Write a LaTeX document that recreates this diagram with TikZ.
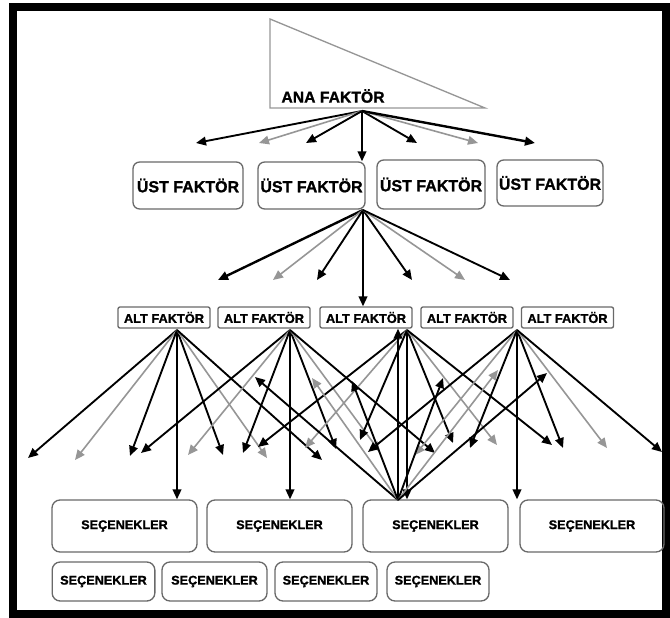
\documentclass[tikz,border=0pt]{standalone}
\usepackage{fontspec}
\setmainfont{Liberation Sans}[BoldFeatures={FakeBold=1.2}]
\usetikzlibrary{arrows.meta,calc}
\definecolor{lgray}{RGB}{150,150,150}
\definecolor{bgray}{RGB}{105,105,105}

\begin{document}
\begin{tikzpicture}[x=0.75pt,y=0.75pt,yscale=-1,xscale=1,
  blk/.style={draw=black,line width=1.4pt,-{Triangle[length=7.5pt,width=6.5pt]}},
  gry/.style={draw=lgray,line width=1.2pt,-{Triangle[length=7.5pt,width=6.5pt]}},
  ustbox/.style={draw=bgray,line width=1pt,rounded corners=5pt,minimum height=35.25pt,inner sep=1pt,font=\bfseries\fontsize{12}{14}\selectfont},
  altbox/.style={draw=bgray,line width=1pt,rounded corners=1.5pt,minimum width=69pt,minimum height=15.75pt,inner sep=1pt,font=\bfseries\fontsize{9.6}{11}\selectfont},
  secbox/.style={draw=bgray,line width=1pt,rounded corners=6pt,minimum width=108.75pt,minimum height=39pt,inner sep=1pt,font=\bfseries\fontsize{9.5}{11}\selectfont},
  secsmall/.style={secbox,minimum width=77pt,minimum height=29.25pt}]
\useasboundingbox (0,0) rectangle (670,617);

%Frame
\draw [line width=6pt] (13,7.5) rectangle (666,613.5);

%Triangle
\draw [color=lgray,line width=1pt] (270,19) -- (270,108) -- (485,108) -- cycle;
% Text Node
\node [inner sep=0pt,font=\bfseries\fontsize{11.8}{14}\selectfont] (ana) at (333,96) {ANA FAKTÖR};

% Text Nodes: ust faktor
\node [ustbox,minimum width=82.5pt] (ust1) at (188,185.5) {ÜST FAKTÖR};
\node [ustbox,minimum width=80.25pt] (ust2) at (311.5,185.5) {ÜST FAKTÖR};
\node [ustbox,minimum width=81pt,minimum height=36.75pt] (ust3) at (431,184.5) {ÜST FAKTÖR};
\node [ustbox,minimum width=79.5pt,minimum height=34.5pt] (ust4) at (550,183) {ÜST FAKTÖR};

% Text Nodes: alt faktor
\node [altbox] (alt1) at (164,317.5) {ALT FAKTÖR};
\node [altbox] (alt2) at (264,317.5) {ALT FAKTÖR};
\node [altbox] (alt3) at (366,317.5) {ALT FAKTÖR};
\node [altbox] (alt4) at (467,317.5) {ALT FAKTÖR};
\node [altbox] (alt5) at (567.5,317.5) {ALT FAKTÖR};

% Text Nodes: secenekler
\node [secbox] (sec1) at (124.5,526) {SEÇENEKLER};
\node [secbox] (sec2) at (279.5,526) {SEÇENEKLER};
\node [secbox] (sec3) at (435.5,526) {SEÇENEKLER};
\node [secbox,minimum width=108pt] (sec4) at (592,526) {SEÇENEKLER};
\node [secsmall] (sec5) at (103.5,581.5) {SEÇENEKLER};
\node [secsmall,minimum width=78.75pt] (sec6) at (214.5,581.5) {SEÇENEKLER};
\node [secsmall,minimum width=76.5pt] (sec7) at (326,581.5) {SEÇENEKLER};
\node [secsmall,minimum width=76.5pt] (sec8) at (438,581.5) {SEÇENEKLER};

%Hubs
\coordinate (top-hub) at (362,111);
\coordinate (ust-hub) at (363,210);
\coordinate (alt1-hub) at (177,330);
\coordinate (alt2-hub) at (290,330);
\coordinate (alt3-hub) at (407,330);
\coordinate (alt5-hub) at (517,330);
\coordinate (sec-hub) at (398,500);

%Free ends
\coordinate (t1) at (196,143); \coordinate (t2) at (259,143); \coordinate (t3) at (306,143);
\coordinate (t4) at (417,143); \coordinate (t5) at (478,143); \coordinate (t6) at (535,143);
\coordinate (u1) at (218,280); \coordinate (u2) at (273,280); \coordinate (u3) at (317,280);
\coordinate (u4) at (412,280); \coordinate (u5) at (465,280); \coordinate (u6) at (510,280);
\coordinate (a1) at (28,458); \coordinate (a2) at (75,460); \coordinate (a3) at (130,456);
\coordinate (a4) at (223,455); \coordinate (a5) at (267,458); \coordinate (a6) at (322,460);
\coordinate (b1) at (141,453); \coordinate (b2) at (188,455); \coordinate (b3) at (243,453);
\coordinate (b4) at (336,449); \coordinate (b5) at (380,452); \coordinate (b6) at (435,453);
\coordinate (c1) at (258,447); \coordinate (c2) at (305,448); \coordinate (c3) at (360,440);
\coordinate (c4) at (453,443); \coordinate (c5) at (497,445); \coordinate (c6) at (552,445);
\coordinate (d1) at (368,452); \coordinate (d2) at (415,455); \coordinate (d3) at (470,448);
\coordinate (d4) at (563,448); \coordinate (d5) at (607,448); \coordinate (d6) at (662,452);
\coordinate (s1) at (255,377); \coordinate (s2) at (312,378); \coordinate (s3) at (352,381);
\coordinate (s4) at (443,378); \coordinate (s5) at (498,370); \coordinate (s6) at (547,373);

%Straight Lines: ana faktor
\draw [blk] (top-hub) -- (t1);
\draw [gry] (top-hub) -- (t2);
\draw [blk] (top-hub) -- (t3);
\draw [blk] (top-hub) -- (top-hub |- ust2.north);
\draw [blk] (top-hub) -- (t4);
\draw [gry] (top-hub) -- (t5);
\draw [blk,line width=1.8pt] (top-hub) -- (t6);

%Straight Lines: ust faktor
\draw [blk,line width=1.8pt] (ust-hub) -- (u1);
\draw [gry] (ust-hub) -- (u2);
\draw [blk] (ust-hub) -- (u3);
\draw [blk] (ust-hub) -- (ust-hub |- alt3.north);
\draw [blk] (ust-hub) -- (u4);
\draw [gry] (ust-hub) -- (u5);
\draw [blk] (ust-hub) -- (u6);

%Straight Lines: alt faktor 1
\draw [blk] (alt1-hub) -- (a1);
\draw [gry] (alt1-hub) -- (a2);
\draw [blk] (alt1-hub) -- (a3);
\draw [blk] (alt1-hub) -- (alt1-hub |- sec1.north);
\draw [blk] (alt1-hub) -- (a4);
\draw [gry] (alt1-hub) -- (a5);
\draw [blk] (alt1-hub) -- (a6);

%Straight Lines: alt faktor 2
\draw [blk] (alt2-hub) -- (b1);
\draw [gry] (alt2-hub) -- (b2);
\draw [blk] (alt2-hub) -- (b3);
\draw [blk] (alt2-hub) -- (alt2-hub |- sec2.north);
\draw [blk] (alt2-hub) -- (b4);
\draw [gry] (alt2-hub) -- (b5);
\draw [blk] (alt2-hub) -- (b6);

%Straight Lines: alt faktor 3
\draw [blk] (alt3-hub) -- (c1);
\draw [gry] (alt3-hub) -- (c2);
\draw [blk] (alt3-hub) -- (c3);
\draw [blk] (alt3-hub) -- (alt3-hub |- sec3.north);
\draw [blk] (alt3-hub) -- (c4);
\draw [gry] (alt3-hub) -- (c5);
\draw [blk] (alt3-hub) -- (c6);

%Straight Lines: alt faktor 5
\draw [blk] (alt5-hub) -- (d1);
\draw [gry] (alt5-hub) -- (d2);
\draw [blk] (alt5-hub) -- (d3);
\draw [blk] (alt5-hub) -- (alt5-hub |- sec4.north);
\draw [blk] (alt5-hub) -- (d4);
\draw [gry] (alt5-hub) -- (d5);
\draw [blk] (alt5-hub) -- (d6);

%Straight Lines: secenekler upwards
\draw [blk] (sec-hub) -- (s1);
\draw [gry] (sec-hub) -- (s2);
\draw [blk] (sec-hub) -- (s3);
\draw [blk] (sec-hub) -- (sec-hub |- alt3.south);
\draw [blk] (sec-hub) -- (s4);
\draw [gry] (sec-hub) -- (s5);
\draw [blk] (sec-hub) -- (s6);

\end{tikzpicture}
\end{document}
